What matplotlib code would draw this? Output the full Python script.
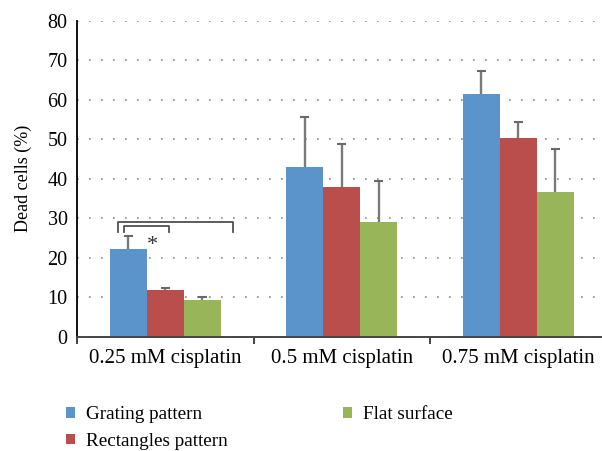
import matplotlib
matplotlib.use("Agg")
import matplotlib.pyplot as plt
from matplotlib.patches import Patch
import numpy as np

categories = ["0.25 mM cisplatin", "0.5 mM cisplatin", "0.75 mM cisplatin"]
series_names = ["Grating pattern", "Rectangles pattern", "Flat surface"]
grating = [22.1, 42.9, 61.4]
rectangles = [11.8, 37.8, 50.2]
flat = [9.3, 29.1, 36.6]
grating_err = [3.4, 12.8, 5.9]
rectangles_err = [0.6, 11.0, 4.0]
flat_err = [0.8, 10.2, 10.8]
yticks = [0, 10, 20, 30, 40, 50, 60, 70, 80]

colors = ["#5B94CB", "#B94E4C", "#99B55A"]

plt.rcParams['font.family'] = ['Liberation Serif', 'DejaVu Serif']

fig = plt.figure(figsize=(6.02, 4.51), dpi=100)
ax = fig.add_axes([77.3/602, (451-336.7)/451, 529/602, 316.2/451])

x = np.arange(len(categories))
w = 0.21
cap = 0.025
vals = [grating, rectangles, flat]
errs = [grating_err, rectangles_err, flat_err]
for i, (v, e) in enumerate(zip(vals, errs)):
    xp = x + (i-1)*w
    v = np.array(v); e = np.array(e)
    ax.bar(xp, v, width=w, color=colors[i], zorder=2, label=series_names[i])
    ax.vlines(xp, v, v + e, color='#7a7a7a', lw=1.7, zorder=3)
    ax.hlines(v + e, xp - cap, xp + cap, color='#6a6a6a', lw=1.5, zorder=3)

ax.set_xlim(-0.5, 2.5)
ax.set_ylim(0, 80)
ax.set_yticks(yticks)
ax.set_xticks(x)
ax.set_xticklabels(categories)
ax.set_xticks([-0.5, 0.5, 1.5, 2.5], minor=True)
ax.tick_params(axis='x', which='major', length=0, pad=9, labelsize=15)
ax.tick_params(axis='x', which='minor', length=5, width=1.2, color='#222222', direction='out')
ax.tick_params(axis='y', length=0, pad=7, labelsize=14.5)
for s in ['top', 'right']:
    ax.spines[s].set_visible(False)
ax.spines['left'].set_linewidth(1.3)
ax.spines['left'].set_color('black')
ax.spines['bottom'].set_linewidth(1.4)
ax.spines['bottom'].set_color('#444444')
ax.set_axisbelow(True)
ax.yaxis.grid(True, color='#888888', linewidth=1.2, linestyle=(0, (1, 6.2)))
ax.set_ylabel("Dead cells (%)", fontsize=13, labelpad=11)

# significance brackets
bc = '#505050'
ax.plot([-0.269, -0.269, 0.383, 0.383], [26.6, 29.1, 29.1, 26.6], color=bc, lw=1.3, zorder=4)
ax.plot([-0.235, -0.235, 0.020, 0.020], [26.6, 28.1, 28.1, 26.6], color=bc, lw=1.3, zorder=4)
ax.text(-0.076, 23.2, "*", fontsize=16, ha='center', va='center', color='#333333')

handles = [Patch(facecolor=c, edgecolor='none') for c in colors]
fig.legend(handles, series_names, loc='upper left', bbox_to_anchor=(49/602, 1-389/451),
           ncol=2, frameon=False, fontsize=13.8, handlelength=0.45, handleheight=0.45,
           handletextpad=0.6, columnspacing=6.0, labelspacing=0.5)

fig.savefig("out.png", dpi=100)
